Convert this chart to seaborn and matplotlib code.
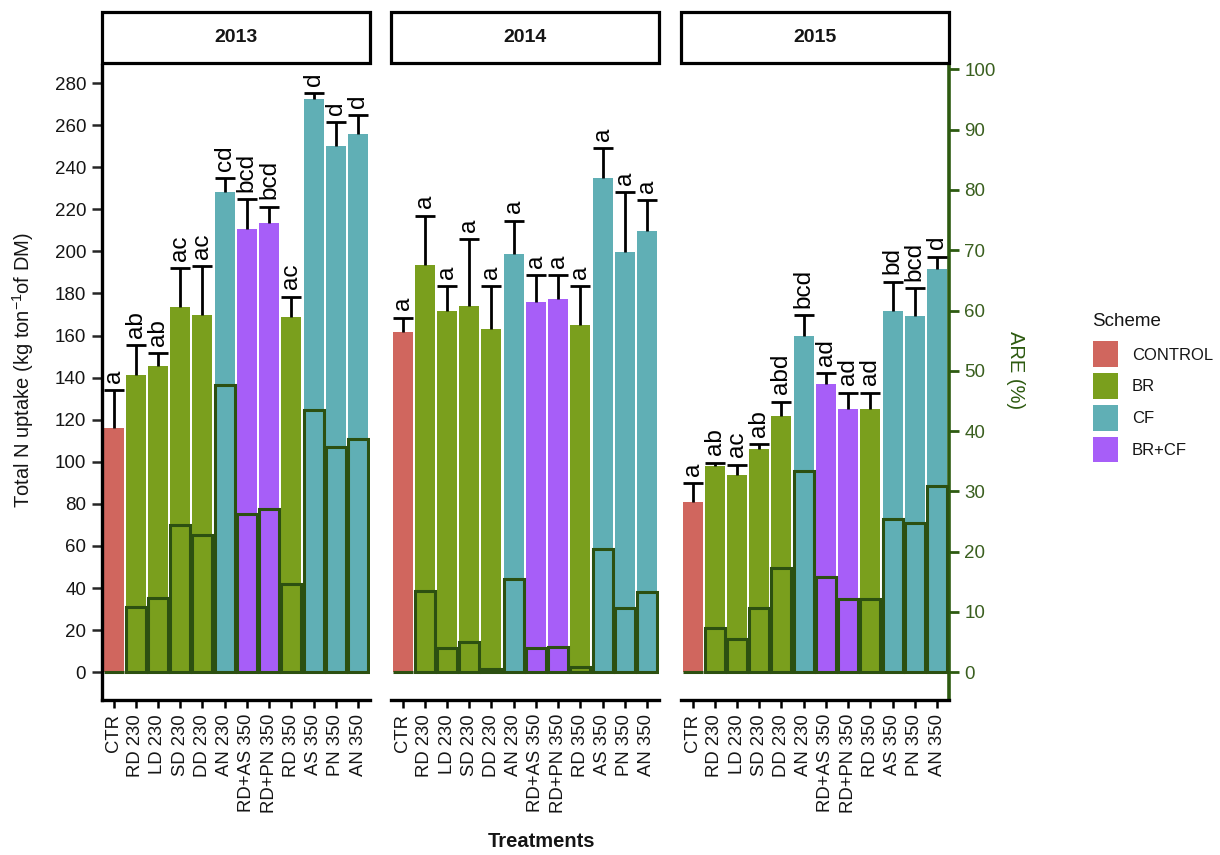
import numpy as np
import pandas as pd
import matplotlib
matplotlib.use("Agg")
import matplotlib.pyplot as plt
from matplotlib.patches import Patch, Rectangle
import seaborn as sns

# ---- data -------------------------------------------------------------
treatments = ["CTR", "RD 230", "LD 230", "SD 230", "DD 230", "AN 230",
              "RD+AS 350", "RD+PN 350", "RD 350", "AS 350", "PN 350", "AN 350"]
schemes = ["CONTROL", "BR", "BR", "BR", "BR", "CF",
           "BR+CF", "BR+CF", "BR", "CF", "CF", "CF"]
scheme_order = ["CONTROL", "BR", "CF", "BR+CF"]
years = ["2013", "2014", "2015"]

# total N uptake (kg ton-1 of DM), mean and standard deviation
n_uptake_2013 = [116.3, 141.5, 145.7, 173.8, 169.8, 228.4, 210.5, 213.7, 168.9, 272.3, 250.1, 255.7]
n_sd_2013 = [17.9, 13.9, 5.9, 18.2, 23.3, 6.4, 14.3, 7.6, 9.6, 2.9, 11.3, 9.2]
n_uptake_2014 = [161.7, 193.6, 171.7, 173.9, 163.0, 198.7, 176.1, 177.4, 165.1, 234.8, 199.6, 209.6]
n_sd_2014 = [6.8, 23.3, 11.9, 31.9, 20.6, 15.9, 12.7, 11.4, 18.5, 14.4, 28.5, 14.9]
n_uptake_2015 = [80.9, 98.0, 93.8, 106.1, 121.8, 159.8, 137.0, 125.0, 125.0, 171.6, 169.3, 191.7]
n_sd_2015 = [8.9, 1.6, 4.8, 2.4, 6.8, 10.0, 5.1, 7.9, 7.9, 14.0, 13.2, 5.8]

# apparent recovery efficiency (%)
are_2013 = [0.0, 10.8, 12.3, 24.4, 22.8, 47.6, 26.3, 27.1, 14.7, 43.5, 37.4, 38.7]
are_2014 = [0.0, 13.5, 4.1, 5.0, 0.6, 15.5, 4.0, 4.2, 0.8, 20.5, 10.7, 13.3]
are_2015 = [0.0, 7.4, 5.5, 10.7, 17.3, 33.4, 15.8, 12.1, 12.1, 25.4, 24.8, 30.9]

# significance letters
letters_2013 = ["a", "ab", "ab", "ac", "ac", "cd", "bcd", "bcd", "ac", "d", "d", "d"]
letters_2014 = ["a"] * 12
letters_2015 = ["a", "ab", "ac", "ab", "abd", "bcd", "ad", "ad", "ad", "bd", "bcd", "d"]

# N-uptake units per ARE percentage point on the shared vertical scale
ARE_SCALE = 2.865

series = {
    "2013": (n_uptake_2013, n_sd_2013, are_2013, letters_2013),
    "2014": (n_uptake_2014, n_sd_2014, are_2014, letters_2014),
    "2015": (n_uptake_2015, n_sd_2015, are_2015, letters_2015),
}

# ---- style ------------------------------------------------------------
palette = {"CONTROL": "#D0665E", "BR": "#7A9F1D", "CF": "#60AFB5", "BR+CF": "#A75EF8"}
OUTLINE = "#2C5011"
RIGHT_AXIS = "#2D5A10"
RIGHT_TEXT = "#3A5F1F"
INK = "#151515"

sns.set_style("white")
plt.rcParams["font.family"] = ["Liberation Sans", "DejaVu Sans"]
plt.rcParams["mathtext.fontset"] = "custom"
plt.rcParams["mathtext.rm"] = "Liberation Sans"
plt.rcParams["mathtext.it"] = "Liberation Sans:italic"
plt.rcParams["mathtext.bf"] = "Liberation Sans:bold"

W, H = 1220, 855
fig = plt.figure(figsize=(W / 100, H / 100), dpi=100)
fig.patch.set_facecolor("white")


def frac_rect(x0, x1, y0, y1):
    return [x0 / W, 1 - y1 / H, (x1 - x0) / W, (y1 - y0) / H]


panel_x = [(102, 370), (391, 659), (681, 949)]
TOP, BOTTOM = 65, 700
Y_LIM = (-13.2, 288.6)
X_LIM = (-0.52, 11.54)

axes = []
for i, year in enumerate(years):
    x0, x1 = panel_x[i]
    ax = fig.add_axes(frac_rect(x0, x1, TOP, BOTTOM))
    axes.append(ax)
    mean, sd, are, lett = series[year]
    df = pd.DataFrame({
        "Treatment": treatments,
        "Scheme": schemes,
        "N": mean,
        "SD": sd,
        "ARE": are,
    })
    df["ARE_scaled"] = df["ARE"] * ARE_SCALE

    # N uptake bars
    sns.barplot(data=df, x="Treatment", y="N", hue="Scheme", order=treatments,
                hue_order=scheme_order, palette=palette, dodge=False, width=0.9,
                errorbar=None, saturation=1, legend=False, linewidth=0, ax=ax)

    # upper error bars
    xs = np.arange(len(treatments))
    tops = df["N"] + df["SD"]
    ax.vlines(xs, df["N"], tops, color="black", linewidth=2.0, zorder=3)
    ax.hlines(tops, xs - 0.45, xs + 0.45, color="black", linewidth=2.0, zorder=3)

    # ARE bars drawn on top, outlined in dark green
    sns.barplot(data=df, x="Treatment", y="ARE_scaled", hue="Scheme", order=treatments,
                hue_order=scheme_order, palette=palette, dodge=False, width=0.9,
                errorbar=None, saturation=1, legend=False, edgecolor=OUTLINE,
                linewidth=2.2, ax=ax)

    # significance letters
    for xi, t, s in zip(xs, tops, lett):
        ax.text(xi, t + 3.5, s, rotation=90, ha="center", va="bottom",
                fontsize=17.5, color="black")

    ax.set_xlim(*X_LIM)
    ax.set_ylim(*Y_LIM)
    ax.set_xlabel("")
    ax.set_ylabel("")
    ax.set_xticks(xs)
    ax.set_xticklabels(treatments, rotation=90, fontsize=13.3, color=INK)
    ax.tick_params(axis="x", length=6, width=1.8, pad=4, color="black", bottom=True)
    for side in ["top", "right", "left"]:
        ax.spines[side].set_visible(False)
    ax.spines["bottom"].set_color("black")
    ax.spines["bottom"].set_linewidth(2.4)
    ax.grid(False)

    if i == 0:
        ax.spines["left"].set_visible(True)
        ax.spines["left"].set_color("black")
        ax.spines["left"].set_linewidth(2.4)
        ax.set_yticks(np.arange(0, 281, 20))
        ax.tick_params(axis="y", length=7, width=1.8, pad=4.5, labelsize=13.5,
                       left=True, labelcolor=INK)
    else:
        ax.set_yticks([])

    # facet strip
    fig.patches.append(Rectangle((x0 / W, 1 - 63 / H), (x1 - x0) / W, 51 / H,
                                 transform=fig.transFigure, facecolor="white",
                                 edgecolor="black", linewidth=2.3))
    fig.text((x0 + x1) / 2 / W, 1 - 37 / H, year, ha="center", va="center",
             fontsize=14, fontweight="bold", color=INK)

# secondary ARE axis on the last panel
ax3 = axes[-1]
sec = ax3.secondary_yaxis("right", functions=(lambda v: v / ARE_SCALE,
                                              lambda a: a * ARE_SCALE))
sec.set_yticks(np.arange(0, 101, 10))
sec.spines["right"].set_color(RIGHT_AXIS)
sec.spines["right"].set_linewidth(2.6)
sec.tick_params(axis="y", length=7, width=2.0, pad=4, color=RIGHT_AXIS,
                labelcolor=RIGHT_TEXT, labelsize=13.5)

# axis titles
fig.text(23 / W, 1 - 370 / H, r"Total N uptake (kg ton$^{-1}$of DM)", rotation=90,
         ha="center", va="center", fontsize=14.5, color=INK)
fig.text(1016 / W, 1 - 370 / H, "ARE (%)", rotation=270, ha="center", va="center",
         fontsize=14.5, color=RIGHT_AXIS)
fig.text(542 / W, 1 - 841 / H, "Treatments", ha="center", va="center",
         fontsize=14.5, fontweight="bold", color=INK)

# legend
fig.text(1092 / W, 1 - 321 / H, "Scheme", ha="left", va="center",
         fontsize=13.5, color=INK)
handles = [Patch(facecolor=palette[s], edgecolor="none") for s in scheme_order]
fig.legend(handles, scheme_order, loc="upper left",
           bbox_to_anchor=(1092.5 / W, 1 - 341.5 / H), frameon=False,
           fontsize=12, handlelength=1.55, handleheight=2.0, labelspacing=0.36,
           handletextpad=0.8, borderpad=0, borderaxespad=0,
           labelcolor=INK)

fig.savefig("out.png", dpi=100, facecolor="white")
